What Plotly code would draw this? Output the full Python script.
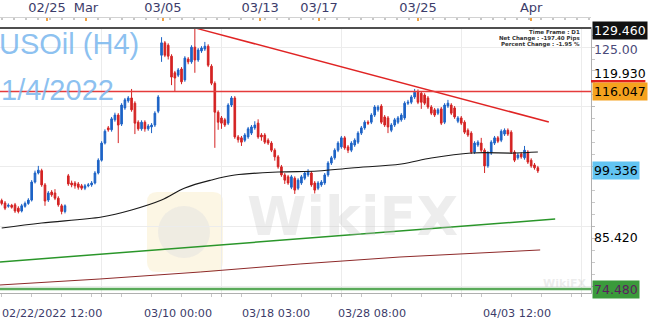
import plotly.graph_objects as go

# ---------------- data (USOil H4 candles) ----------------
opens = [93.1, 92.6, 91.9, 92.1, 92.2, 91.5, 90.9, 91.9, 92.5, 93.2,
         97.0, 98.9, 99.4, 96.4, 93.2, 94.9, 94.7, 93.6, 92.0, 90.8,
         98.3, 96.8, 96.8, 96.6, 96.2, 95.7, 96.2, 96.4, 96.8, 98.9,
         101.6, 105.2, 108.4, 108.0, 110.1, 111.1, 109.2, 112.6, 114.1, 114.7,
         113.6, 109.6, 108.2, 109.6, 108.2, 108.6, 109.0, 111.9, 123.7, 126.3,
         125.8, 123.5, 120.0, 119.5, 120.8, 118.5, 122.9, 122.3, 125.4, 122.7,
         124.6, 125.0, 125.6, 121.4, 117.8, 111.7, 110.5, 110.1, 109.4, 113.2,
         114.7, 106.5, 106.3, 105.8, 106.5, 107.3, 108.4, 109.4, 106.9, 106.9,
         105.8, 105.2, 103.7, 102.3, 100.2, 98.5, 98.1, 95.9, 97.8, 95.7,
         96.8, 97.8, 98.5, 98.9, 96.8, 95.7, 96.4, 96.8, 98.5, 101.0,
         102.1, 103.7, 104.4, 106.3, 104.4, 103.7, 104.8, 105.4, 107.3, 108.4,
         109.6, 109.6, 111.1, 112.2, 113.0, 110.7, 110.5, 107.9, 109.0, 109.6,
         110.1, 110.5, 113.6, 113.8, 114.9, 115.9, 115.7, 115.3, 114.7, 112.8,
         112.2, 111.5, 112.4, 109.6, 113.0, 113.2, 112.6, 109.8, 110.5, 109.6,
         107.9, 107.3, 103.3, 104.8, 105.2, 103.7, 100.4, 103.1, 105.2, 106.3,
         105.8, 107.1, 107.9, 107.5, 103.3, 102.1, 102.9, 102.1, 103.3, 101.6,
         100.6, 100.0]
highs = [93.5, 93.0, 92.5, 92.4, 92.6, 91.9, 92.4, 92.9, 93.6, 97.4,
         99.4, 100.4, 99.8, 96.8, 95.1, 95.3, 95.5, 94.0, 92.4, 92.3,
         98.7, 97.3, 97.2, 97.0, 96.6, 96.6, 96.8, 97.2, 99.3, 102.0,
         105.6, 108.1, 108.8, 110.7, 111.6, 111.5, 113.6, 114.7, 115.1, 116.6,
         114.0, 110.0, 110.0, 110.0, 109.2, 109.4, 111.9, 115.3, 127.5, 126.7,
         126.2, 123.9, 120.4, 121.0, 121.2, 123.5, 123.3, 125.8, 129.46, 125.2,
         125.6, 126.5, 126.0, 121.8, 118.2, 112.1, 110.9, 110.5, 113.6, 115.1,
         115.1, 106.9, 106.7, 107.3, 108.6, 109.0, 109.8, 110.2, 107.3, 107.3,
         106.2, 105.6, 104.1, 102.7, 100.6, 98.9, 98.5, 98.5, 98.2, 97.8,
         98.5, 99.3, 99.7, 99.3, 97.2, 97.2, 97.4, 98.9, 101.4, 102.5,
         104.1, 105.6, 106.7, 106.7, 104.8, 105.6, 106.2, 107.7, 108.8, 110.0,
         110.0, 111.5, 113.2, 113.2, 113.4, 111.1, 110.9, 109.4, 110.5, 110.9,
         111.5, 114.0, 114.3, 115.3, 116.6, 116.5, 116.1, 115.7, 115.1, 113.2,
         112.6, 112.6, 112.8, 113.6, 114.3, 113.6, 113.0, 110.9, 110.9, 110.0,
         108.3, 107.7, 105.6, 105.8, 106.3, 104.1, 103.5, 105.8, 106.7, 106.7,
         108.1, 108.3, 108.3, 107.9, 103.7, 103.1, 103.3, 104.6, 103.7, 102.0,
         101.0, 100.4]
lows = [92.1, 91.1, 91.6, 91.4, 90.5, 90.4, 90.6, 91.6, 92.2, 92.9,
        96.7, 98.6, 96.0, 92.0, 92.8, 93.9, 93.2, 91.8, 90.2, 90.4,
        96.2, 95.9, 95.6, 95.4, 95.3, 95.3, 95.9, 96.0, 96.5, 98.6,
        101.3, 104.9, 107.6, 107.6, 109.7, 105.2, 108.8, 112.2, 113.7, 111.8,
        107.1, 107.8, 107.8, 107.6, 107.8, 107.3, 108.6, 111.5, 122.3, 123.3,
        122.8, 117.4, 116.0, 119.1, 117.6, 118.1, 121.8, 121.9, 120.0, 122.3,
        124.2, 124.6, 121.2, 117.4, 104.2, 108.0, 108.2, 108.6, 109.0, 112.8,
        106.1, 105.3, 104.6, 105.4, 106.1, 106.9, 108.0, 106.1, 105.7, 105.0,
        104.8, 103.3, 101.5, 99.8, 98.1, 96.6, 96.4, 95.5, 94.5, 95.3,
        96.4, 97.4, 98.1, 96.0, 94.6, 95.3, 96.0, 96.4, 98.1, 100.6,
        101.7, 103.3, 104.0, 103.8, 103.1, 103.3, 104.4, 105.0, 106.9, 108.0,
        109.0, 109.2, 110.7, 111.8, 109.2, 108.6, 107.3, 107.5, 108.6, 109.2,
        109.7, 110.1, 113.2, 113.4, 114.5, 113.4, 112.4, 113.2, 112.4, 111.1,
        110.7, 111.1, 109.0, 109.2, 112.6, 111.1, 110.3, 109.4, 109.0, 107.1,
        106.5, 102.9, 102.9, 104.4, 103.3, 98.9, 100.0, 102.7, 104.8, 105.2,
        105.4, 106.7, 106.7, 102.9, 101.2, 101.7, 101.9, 101.7, 100.8, 100.0,
        99.6, 98.9]
closes = [92.5, 91.5, 92.1, 91.7, 90.9, 90.8, 92.0, 92.5, 93.2, 97.0,
          98.9, 99.5, 96.4, 93.0, 94.7, 94.3, 93.6, 92.2, 90.8, 92.0,
          96.6, 96.4, 96.2, 95.9, 95.7, 96.2, 96.4, 96.8, 98.9, 101.6,
          105.2, 107.7, 108.0, 110.3, 111.1, 109.0, 113.2, 114.3, 114.7, 112.2,
          109.4, 108.2, 109.6, 108.2, 108.8, 109.0, 111.5, 114.9, 126.3, 123.7,
          123.5, 119.1, 118.9, 120.6, 118.1, 123.1, 122.3, 125.4, 122.7, 124.8,
          125.2, 125.6, 121.6, 117.8, 111.7, 109.6, 109.4, 109.0, 113.2, 114.7,
          106.5, 105.9, 105.4, 106.9, 108.2, 108.6, 109.0, 106.5, 106.5, 105.4,
          105.2, 103.7, 102.3, 100.2, 98.5, 97.4, 96.8, 98.1, 95.3, 97.4,
          98.1, 98.9, 99.1, 96.4, 95.3, 96.8, 97.0, 98.5, 101.0, 102.1,
          103.7, 105.2, 106.3, 104.2, 103.7, 105.2, 105.8, 107.3, 108.4, 109.6,
          109.4, 111.1, 112.8, 112.8, 109.6, 109.0, 108.6, 109.0, 110.1, 110.5,
          111.1, 113.6, 113.8, 114.9, 115.9, 113.8, 113.8, 113.6, 112.8, 111.5,
          111.1, 112.2, 109.4, 113.2, 113.6, 111.5, 110.7, 110.5, 109.4, 107.5,
          106.9, 103.3, 105.2, 105.4, 103.7, 100.4, 103.1, 105.4, 106.3, 105.6,
          107.7, 107.9, 107.1, 103.3, 101.6, 102.7, 102.3, 103.7, 101.2, 100.4,
          100.0, 99.336]

# moving average (black)
ma_idx = [0, 12, 30, 39, 48, 55, 63, 70, 83, 95, 105, 120, 129, 141, 154, 161]
ma_val = [87.33, 88.38, 89.64, 91.12, 93.22, 95.75, 97.43, 98.48, 99.11, 99.32,
          99.96, 100.80, 102.06, 103.11, 103.11, 103.32]
# slow moving average (dark red)
slow_idx = [-0.5, 29.5, 59.6, 89.6, 119.6, 161.7]
slow_val = [75.33, 76.59, 78.06, 79.75, 81.22, 82.70]
# rising green trend line
green_idx = [-0.5, 166.2]
green_val = [80.17, 89.22]
# falling red trend line
down_idx = [58, 164.3]
down_val = [129.46, 109.64]

high_level = 129.46
resist_level = 116.047
support_level = 74.48
last_price = 99.336

# top date axis
top_tick_idx = [13.6, 25.3, 48.4, 77.6, 95.3, 125.0, 159.0]
top_tick_txt = ["02/25", "Mar", "03/05", "03/13", "03/17", "03/25", "Apr"]
# bottom date labels
bot_idx = [13.3, 53.0, 82.4, 111.2, 154.7]
bot_txt = ["02/22/2022 12:00", "03/10 00:00", "03/18 03:00", "03/28 08:00", "04/03 12:00"]

# right price labels
lab_vals = [129.46, 125.00, 119.93, 116.047, 99.336, 85.42, 74.48]
lab_txt = ["129.460", "125.00", "119.930", "116.047", "99.336", "85.420", "74.480"]
lab_bg = ["#111111", None, None, "#f5a21e", "#62c4f2", None, "#3b9a3b"]
lab_fc = ["#ffffff", "#4a4a7a", "#000000", "#000000", "#000000", "#000000", "#5a1f5e"]
lab_shift = [-3, 0, 0, 0, 0, 0, 0]

XR = [-0.51, 176.96]
YR = [73.64, 129.64]

fig = go.Figure()

fig.add_trace(go.Scatter(x=slow_idx, y=slow_val, mode="lines",
                         line=dict(color="#8e2a2a", width=1), hoverinfo="skip"))
fig.add_trace(go.Scatter(x=green_idx, y=green_val, mode="lines",
                         line=dict(color="#2a962a", width=1.5), hoverinfo="skip"))
fig.add_trace(go.Scatter(x=ma_idx, y=ma_val, mode="lines", line_shape="spline",
                         line=dict(color="#1a1a1a", width=1.2), hoverinfo="skip"))
fig.add_trace(go.Candlestick(
    x=list(range(len(closes))), open=opens, high=highs, low=lows, close=closes,
    increasing=dict(line=dict(color="#1d63c6", width=1), fillcolor="#1d63c6"),
    decreasing=dict(line=dict(color="#d42323", width=1), fillcolor="#d42323"),
    whiskerwidth=0, hoverinfo="skip"))
fig.add_trace(go.Scatter(x=down_idx, y=down_val, mode="lines",
                         line=dict(color="#e02424", width=1.5), hoverinfo="skip"))
# invisible trace to activate top axis
fig.add_trace(go.Scatter(x=[top_tick_idx[0]], y=[closes[0]], xaxis="x2", mode="markers",
                         marker=dict(opacity=0), hoverinfo="skip"))


def px_to_py(row):
    """pixel row of the page -> paper fraction of the plotting area"""
    return (293 - row) / 276.0


def px_to_px(col):
    return col / 591.0


shapes = [
    # watermark logo (behind everything)
    dict(type="path", xref="paper", yref="paper", layer="below",
         path=("M {a},{b} L {c},{b} Q {d},{b} {d},{e} L {d},{f} Q {d},{g} {c},{g} "
               "L {a},{g} Q {h},{g} {h},{f} L {h},{e} Q {h},{b} {a},{b} Z").format(
             a=px_to_px(157), c=px_to_px(213), d=px_to_px(223), h=px_to_px(147),
             b=px_to_py(272), e=px_to_py(262), f=px_to_py(202), g=px_to_py(192)),
         fillcolor="rgba(250,238,205,0.55)", line=dict(width=0)),
    dict(type="circle", xref="paper", yref="paper", layer="below",
         x0=px_to_px(158), x1=px_to_px(210), y0=px_to_py(258), y1=px_to_py(206),
         fillcolor="rgba(225,225,225,0.45)", line=dict(width=0)),
    dict(type="line", xref="paper", x0=0, x1=1, yref="y", y0=resist_level, y1=resist_level,
         line=dict(color="#e53b3b", width=1.5)),
    dict(type="line", xref="paper", x0=0, x1=1, yref="y", y0=high_level, y1=high_level,
         line=dict(color="#4f4f4f", width=2.5)),
    dict(type="line", xref="paper", x0=0, x1=1, yref="y", y0=support_level, y1=support_level,
         line=dict(color="#5aaa5a", width=2.5)),
    # red bar above the 116.047 tag
    dict(type="rect", xref="paper", x0=1.0, x1=1.092, yref="y", y0=117.95, y1=118.5,
         fillcolor="#e02020", line=dict(width=0)),
]

ann = []
# big watermark text first so it sits behind other annotations
ann.append(dict(x=px_to_px(352), xref="paper", y=px_to_py(216), yref="paper",
                text="<b>WikiFX</b>", showarrow=False, xanchor="center", yanchor="middle",
                font=dict(family="DejaVu Sans", size=54, color="rgba(200,200,200,0.32)")))
ann.append(dict(x=1, xref="paper", y=px_to_py(283), yref="paper", text="<b>WikiFX</b>",
                showarrow=False, xanchor="right", yanchor="middle", xshift=-2,
                font=dict(family="DejaVu Sans", size=11, color="rgba(200,200,200,0.35)")))

for v, t, bg, fc, sh in zip(lab_vals, lab_txt, lab_bg, lab_fc, lab_shift):
    a = dict(x=1, xref="paper", y=v, yref="y", text=t, showarrow=False, xanchor="left",
             yanchor="middle", xshift=1, yshift=sh,
             font=dict(family="DejaVu Sans", size=12.5, color=fc), borderpad=1)
    if bg:
        a["bgcolor"] = bg
    ann.append(a)

for i, (xi, t) in enumerate(zip(bot_idx, bot_txt)):
    a = dict(x=xi, xref="x", y=0, yref="paper", text=t, showarrow=False,
             xanchor="center", yanchor="middle", yshift=-20,
             font=dict(family="DejaVu Sans", size=11.2, color="#3c3c6a"))
    if i == 0:
        a.update(x=0, xref="paper", xanchor="left")
    ann.append(a)

title_font = "Liberation Sans, Arial, sans-serif"
ann.append(dict(x=0, xref="paper", y=px_to_py(44), yref="paper", text="USOil (H4)",
                showarrow=False, xanchor="left", yanchor="middle", xshift=-3,
                font=dict(family=title_font, size=29, color="rgba(120,182,238,0.85)")))
ann.append(dict(x=0, xref="paper", y=px_to_py(90), yref="paper", text="1/4/2022",
                showarrow=False, xanchor="left", yanchor="middle", xshift=-1,
                font=dict(family=title_font, size=29, color="rgba(120,182,238,0.85)")))

info = ["Time Frame : D1", "Net Change : -197.40 Pips", "Percent Change : -1.95 %"]
for i, t in enumerate(info):
    ann.append(dict(x=px_to_px(582), xref="paper", y=px_to_py(31.5 + 6.6 * i), yref="paper",
                    text="<b>" + t + "</b>", showarrow=False, xanchor="right", yanchor="middle",
                    font=dict(family="DejaVu Sans", size=5.5, color="#333333")))

fig.update_layout(
    width=650, height=321,
    margin=dict(l=0, r=59, t=17, b=28),
    paper_bgcolor="white", plot_bgcolor="white",
    showlegend=False,
    shapes=shapes, annotations=ann,
    xaxis=dict(range=XR, rangeslider=dict(visible=False), showgrid=True, gridcolor="#ececec",
               tickvals=[30, 66, 102, 138, 174], showticklabels=False, zeroline=False,
               showline=True, linecolor="#b0b0b0", ticks="outside", ticklen=3,
               tickcolor="#bbbbbb",
               minor=dict(tickmode="linear", tick0=0, dtick=9, ticks="outside", ticklen=3,
                          tickcolor="#c8c8c8")),
    xaxis2=dict(range=XR, overlaying="x", side="top", anchor="free", position=1,
                tickmode="array", tickvals=top_tick_idx, ticktext=top_tick_txt,
                ticks="inside", ticklen=3, tickwidth=1.5, tickcolor="#f0a040",
                showline=True, linecolor="#d2d2d2", showgrid=False, zeroline=False,
                tickfont=dict(family="DejaVu Sans", size=13, color="#3c3c6a"),
                minor=dict(tickmode="linear", tick0=0, dtick=3.6, ticks="inside", ticklen=2,
                           tickcolor="#c8c8c8")),
    yaxis=dict(range=YR, domain=[0, 266 / 276], side="right", showgrid=True,
               gridcolor="#ececec", tick0=74.91, dtick=12.63, showticklabels=False,
               zeroline=False, showline=True, linecolor="#b0b0b0", ticks="outside",
               ticklen=3, tickcolor="#bbbbbb",
               minor=dict(tick0=74.91, dtick=2.526, ticks="outside", ticklen=3,
                          tickcolor="#c8c8c8")),
)

fig.write_html("out.html")
